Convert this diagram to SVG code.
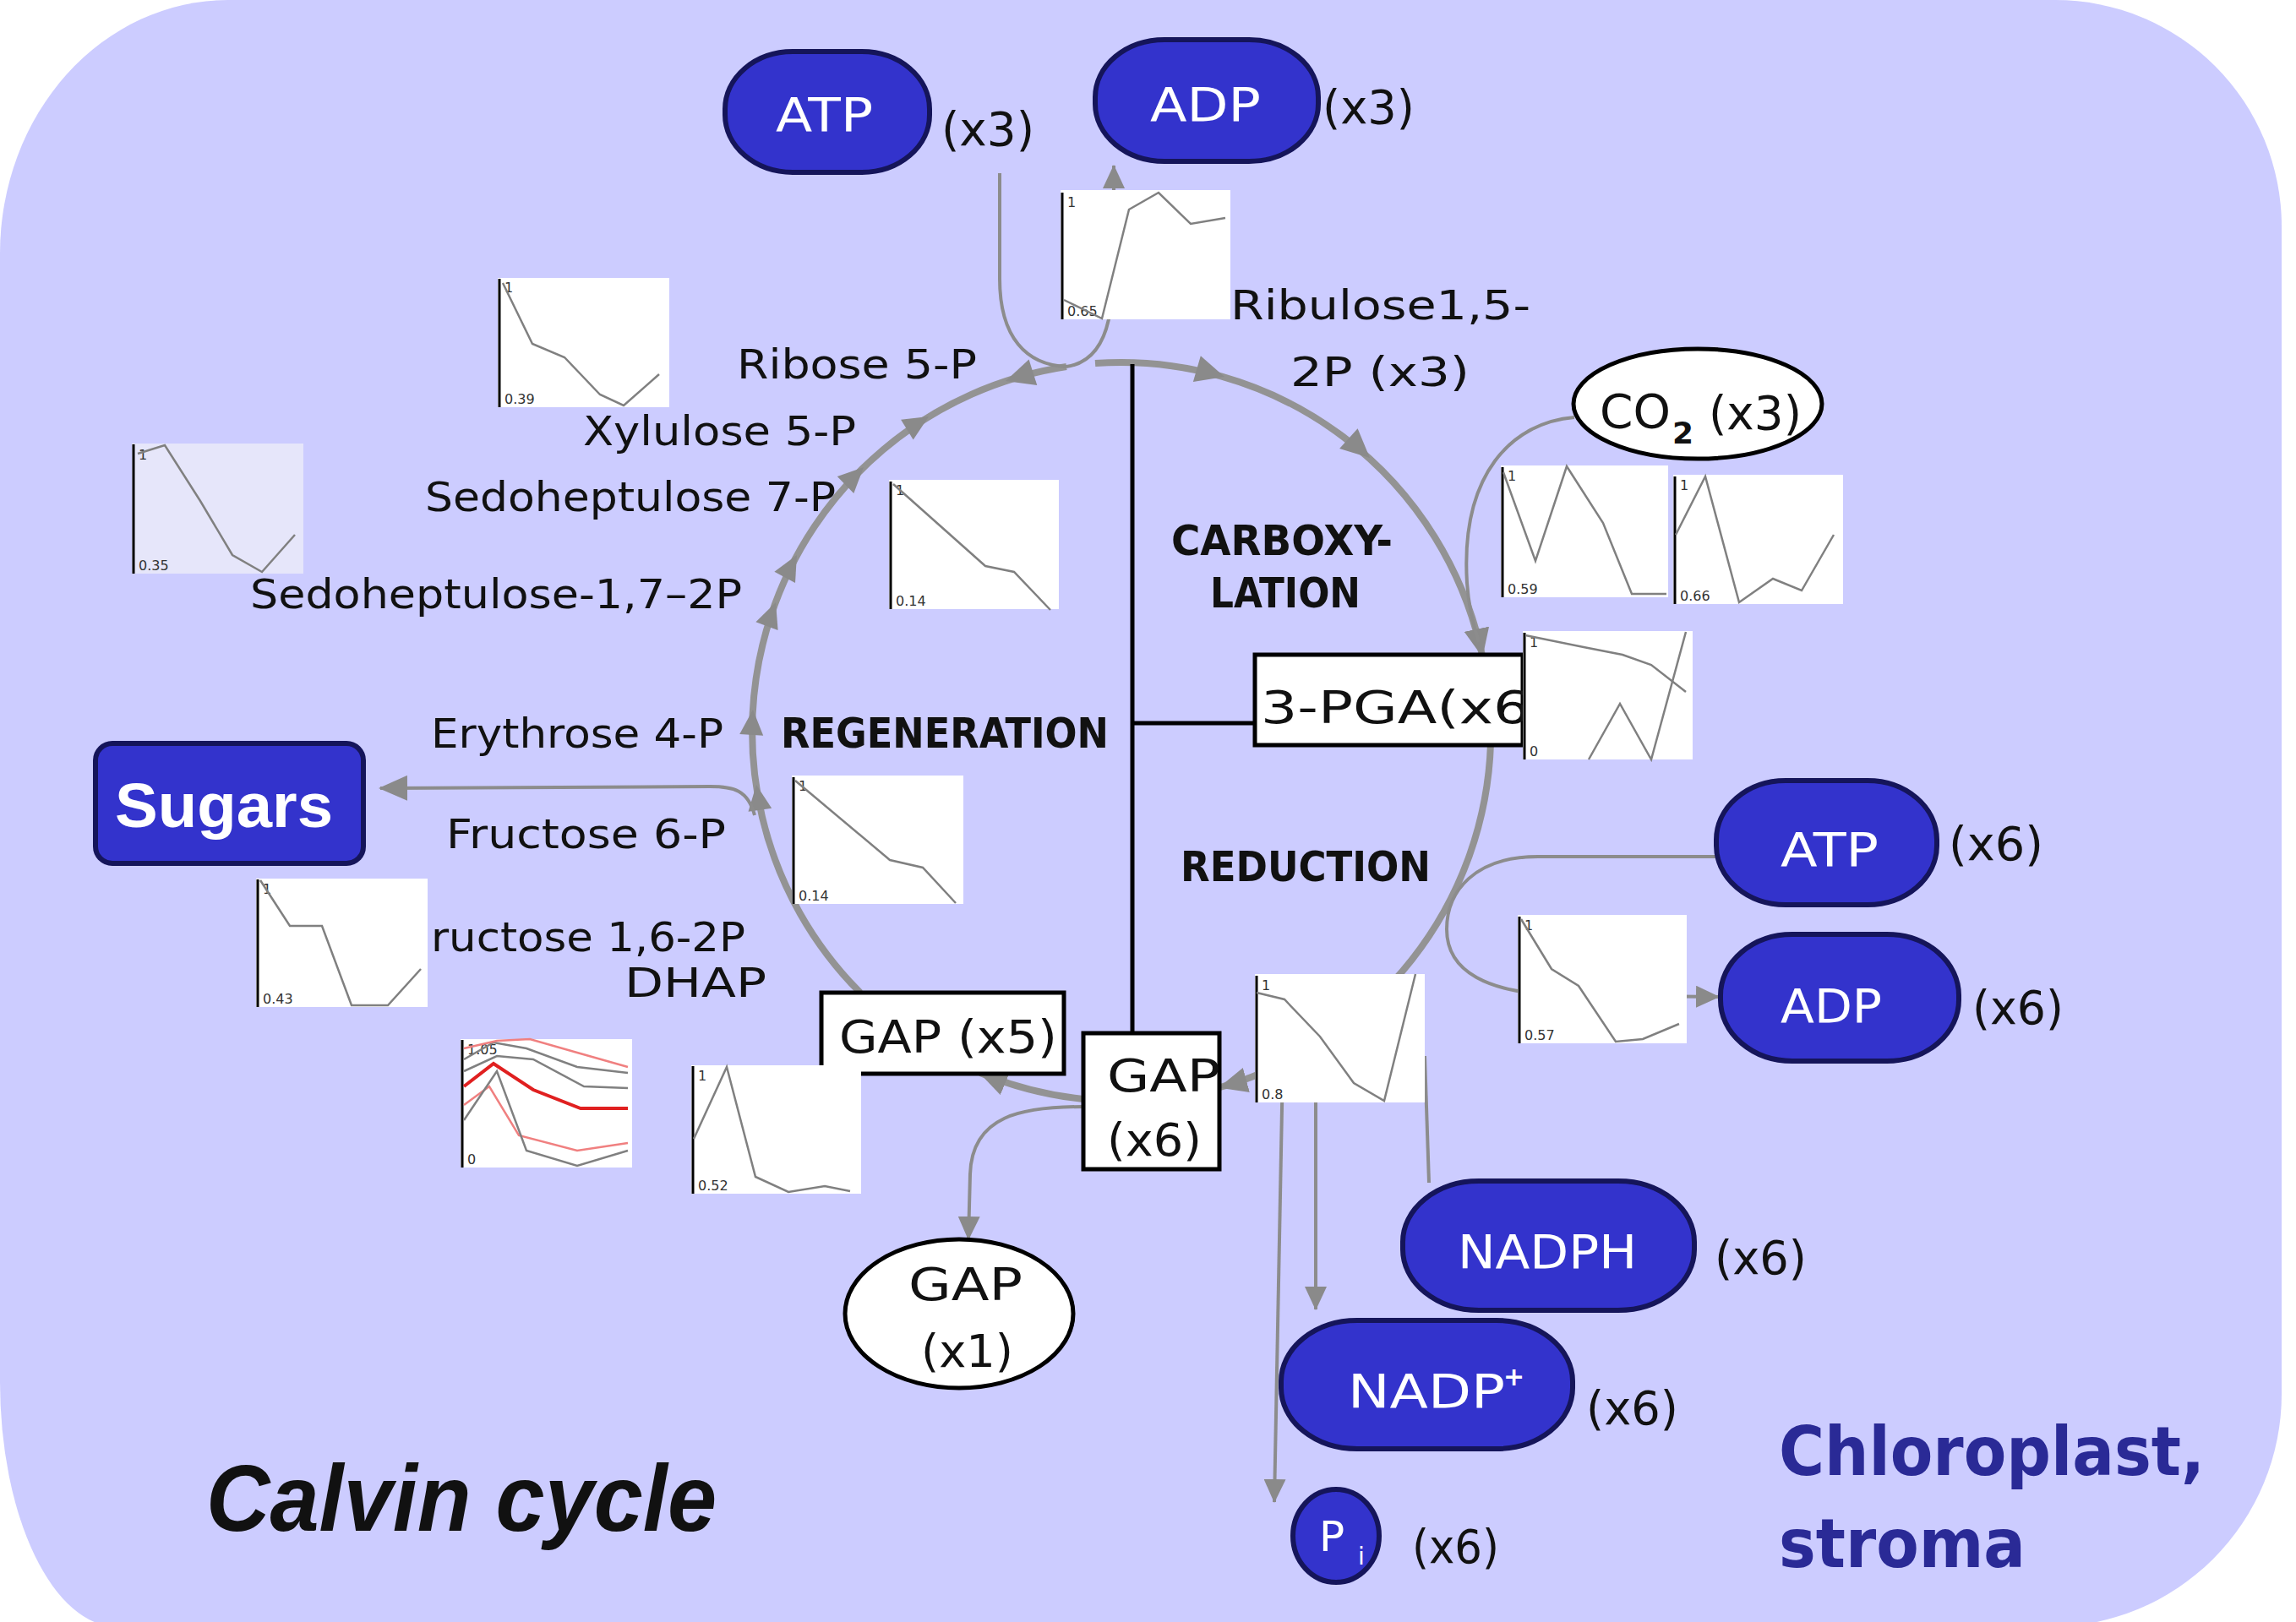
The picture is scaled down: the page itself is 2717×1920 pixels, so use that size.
<svg xmlns="http://www.w3.org/2000/svg" width="2717" height="1920" viewBox="0 0 2717 1920">
<style>
.lbl{font-family:"DejaVu Sans",Verdana,sans-serif;font-size:48px;fill:#111}
.num{font-family:"DejaVu Sans",Verdana,sans-serif;font-size:56px;fill:#111}
.bl{font-family:"DejaVu Sans Condensed","DejaVu Sans",sans-serif;font-weight:bold;font-size:50px;fill:#111}
.pill{fill:#3333CC;stroke:#15155a;stroke-width:6}
.pt{font-family:"DejaVu Sans",Verdana,sans-serif;font-size:56px;fill:#fff}
.box{fill:#fff;stroke:#000;stroke-width:5}
.bt{font-family:"DejaVu Sans",Verdana,sans-serif;font-size:54px;fill:#111}
.chart{fill:#fff}
.ax{stroke:#000;stroke-width:3}
.cv{fill:none;stroke:#808080;stroke-width:2.5}
.cl{font-family:"DejaVu Sans",sans-serif;font-size:16px;fill:#333}
.cyc{fill:none;stroke:#939393;stroke-width:8}
.con{fill:none;stroke:#8c8c8c;stroke-width:4}
.blk{stroke:#000;stroke-width:5;fill:none}
.ah{fill:#8a8a8a}
</style>
<defs>
<marker id="mc" viewBox="0 0 34 30" refX="32" refY="15" markerWidth="34" markerHeight="30" markerUnits="userSpaceOnUse" orient="auto"><path d="M0,0 L34,15 L0,30 Z" fill="#8a8a8a"/></marker>
<marker id="ms" viewBox="0 0 28 26" refX="27" refY="13" markerWidth="28" markerHeight="26" markerUnits="userSpaceOnUse" orient="auto"><path d="M0,0 L28,13 L0,26 Z" fill="#8a8a8a"/></marker>
<path id="ahb" d="M0,0 L-34,-16 L-34,16 Z"/>
<path id="ahs" d="M0,0 L-30,-14 L-30,14 Z"/>
</defs>

<path id="stroma" d="M270,0 H2432 A268 268 0 0 1 2700,268 V1650 A276 276 0 0 1 2424,1926 H140 A140 290 0 0 1 0,1636 V300 A270 300 0 0 1 270,0 Z" fill="#CCCCFF"/>

<g id="connectors">
<path class="cyc" d="M1296,430 A437 437 0 0 1 1754,776" marker-end="url(#mc)"/>
<path class="cyc" d="M1764,880 A437 437 0 0 1 1444,1287" marker-end="url(#mc)"/>
<path class="cyc" d="M1282,1301 A437 437 0 0 1 1160,1270" marker-end="url(#mc)"/>
<path class="cyc" d="M1018,1175 A437 437 0 0 1 1262,434"/>
<g class="ah">
<use href="#ahb" transform="translate(1449,446) rotate(16.2)"/>
<use href="#ahb" transform="translate(1621,542) rotate(42.3)"/>
<use href="#ahs" transform="translate(1099,493) rotate(-31.4)"/>
<use href="#ahs" transform="translate(1022,553) rotate(-44.3)"/>
<use href="#ahs" transform="translate(943,657) rotate(-61.5)"/>
<use href="#ahs" transform="translate(918,713) rotate(-69.5)"/>
<use href="#ahs" transform="translate(891,840) rotate(-86.6)"/>
<use href="#ahs" transform="translate(895,929) rotate(-98.3)"/>
<use href="#ahb" transform="translate(1190,451) rotate(162.4)"/>
</g>
<path class="con" d="M1183,205 V330 C1183,400 1215,432 1262,434"/>
<path class="con" d="M1262,434 C1290,430 1305,410 1312,378 L1318,225 L1318,196" marker-end="url(#ms)"/>
<path class="con" d="M1863,494 C1790,500 1728,560 1736,690 C1738,720 1745,745 1750,760"/>
<path class="con" d="M2031,1014 L1820,1014 C1745,1014 1712,1055 1712,1100 C1712,1150 1760,1176 1850,1178 L2034,1180" marker-end="url(#ms)"/>
<path class="con" d="M1282,1310 C1210,1310 1150,1320 1148,1390 L1146,1467" marker-end="url(#ms)"/>
<path class="con" d="M893,965 C885,935 868,931 840,931 L450,933" marker-end="url(#mc)"/>
<path class="con" d="M1691,1400 L1686,1250"/>
<path class="con" d="M1557,1260 L1557,1550" marker-end="url(#ms)"/>
<path class="con" d="M1518,1260 L1508,1778" marker-end="url(#ms)"/>
<path class="blk" d="M1340,431 V1222 M1340,856 H1485"/>
</g>

<g id="atp3"><rect class="pill" x="858" y="61" width="242" height="143" rx="80" ry="68"/><text class="pt" x="918" y="155" textLength="115" lengthAdjust="spacingAndGlyphs">ATP</text><text class="num" x="1114" y="172" textLength="110" lengthAdjust="spacingAndGlyphs">(x3)</text></g>
<g id="adp3"><rect class="pill" x="1296" y="47" width="264" height="144" rx="82" ry="68"/><text class="pt" x="1361" y="143" textLength="131" lengthAdjust="spacingAndGlyphs">ADP</text><text class="num" x="1565" y="146" textLength="109" lengthAdjust="spacingAndGlyphs">(x3)</text></g>
<g id="atp6"><rect class="pill" x="2031" y="924" width="261" height="147" rx="82" ry="70"/><text class="pt" x="2107" y="1025" textLength="116" lengthAdjust="spacingAndGlyphs">ATP</text><text class="num" x="2306" y="1018" textLength="112" lengthAdjust="spacingAndGlyphs">(x6)</text></g>
<g id="adp6"><rect class="pill" x="2036" y="1106" width="282" height="150" rx="85" ry="72"/><text class="pt" x="2107" y="1210" textLength="120" lengthAdjust="spacingAndGlyphs">ADP</text><text class="num" x="2334" y="1212" textLength="108" lengthAdjust="spacingAndGlyphs">(x6)</text></g>
<g id="nadph"><rect class="pill" x="1660" y="1398" width="345" height="153" rx="90" ry="72"/><text class="pt" x="1725" y="1501" textLength="212" lengthAdjust="spacingAndGlyphs">NADPH</text><text class="num" x="2029" y="1508" textLength="109" lengthAdjust="spacingAndGlyphs">(x6)</text></g>
<g id="nadp"><rect class="pill" x="1516" y="1563" width="345" height="152" rx="90" ry="72"/><text class="pt" x="1595" y="1666" textLength="186" lengthAdjust="spacingAndGlyphs">NADP</text><text class="pt" x="1779" y="1640" style="font-size:30px;font-weight:bold">+</text><text class="num" x="1877" y="1686" textLength="109" lengthAdjust="spacingAndGlyphs">(x6)</text></g>
<g id="pi"><ellipse class="pill" cx="1581" cy="1818" rx="51" ry="55"/><text class="pt" x="1561" y="1836" style="font-size:50px">P</text><text class="pt" x="1607" y="1852" style="font-size:28px">i</text><text class="num" x="1671" y="1850" textLength="103" lengthAdjust="spacingAndGlyphs">(x6)</text></g>
<g id="sugars"><rect class="pill" x="113" y="880" width="317" height="142" rx="20" ry="20"/><text x="136" y="979" textLength="258" lengthAdjust="spacingAndGlyphs" style="font-family:'Liberation Sans',Arial,sans-serif;font-weight:bold;font-size:74px;fill:#fff">Sugars</text></g>
<g id="co2"><ellipse cx="2009" cy="478" rx="147" ry="65" fill="#fff" stroke="#000" stroke-width="5"/><text class="num" x="1893" y="506" textLength="84" lengthAdjust="spacingAndGlyphs">CO</text><text class="num" x="1979" y="525" style="font-size:36px;font-weight:bold">2</text><text class="num" x="2022" y="508" textLength="110" lengthAdjust="spacingAndGlyphs">(x3)</text></g>
<g id="pga"><rect class="box" x="1485" y="775" width="317" height="107"/><text class="bt" x="1492" y="856" textLength="345" lengthAdjust="spacingAndGlyphs">3-PGA(x6)</text></g>
<g id="gap5"><rect class="box" x="972" y="1175" width="287" height="96"/><text class="bt" x="993" y="1246" textLength="258" lengthAdjust="spacingAndGlyphs">GAP (x5)</text></g>
<g id="gap6"><rect class="box" x="1282" y="1223" width="161" height="161"/><text class="bt" x="1310" y="1292" textLength="134" lengthAdjust="spacingAndGlyphs">GAP</text><text class="bt" x="1310" y="1368" textLength="112" lengthAdjust="spacingAndGlyphs">(x6)</text></g>
<g id="gap1"><ellipse cx="1135" cy="1555" rx="135" ry="88" fill="#fff" stroke="#000" stroke-width="5"/><text class="bt" x="1075" y="1539" textLength="135" lengthAdjust="spacingAndGlyphs">GAP</text><text class="bt" x="1090" y="1618" textLength="109" lengthAdjust="spacingAndGlyphs">(x1)</text></g>

<g id="labels">
<text class="lbl" x="872" y="448" textLength="284" lengthAdjust="spacingAndGlyphs">Ribose 5-P</text>
<text class="lbl" x="690" y="527" textLength="323" lengthAdjust="spacingAndGlyphs">Xylulose 5-P</text>
<text class="lbl" x="503" y="605" textLength="486" lengthAdjust="spacingAndGlyphs">Sedoheptulose 7-P</text>
<text class="lbl" x="296" y="720" textLength="582" lengthAdjust="spacingAndGlyphs">Sedoheptulose-1,7–2P</text>
<text class="lbl" x="510" y="885" textLength="346" lengthAdjust="spacingAndGlyphs">Erythrose 4-P</text>
<text class="lbl" x="528" y="1004" textLength="331" lengthAdjust="spacingAndGlyphs">Fructose 6-P</text>
<text class="lbl" x="510" y="1126" textLength="372" lengthAdjust="spacingAndGlyphs">ructose 1,6-2P</text>
<text class="lbl" x="739" y="1180" textLength="168" lengthAdjust="spacingAndGlyphs">DHAP</text>
<text class="lbl" x="1456" y="378" textLength="355" lengthAdjust="spacingAndGlyphs">Ribulose1,5-</text>
<text class="lbl" x="1527" y="457" textLength="212" lengthAdjust="spacingAndGlyphs">2P (x3)</text>
<text class="bl" x="924" y="885" textLength="388" lengthAdjust="spacingAndGlyphs">REGENERATION</text>
<text class="bl" x="1386" y="657" textLength="262" lengthAdjust="spacingAndGlyphs">CARBOXY-</text>
<text class="bl" x="1432" y="719" textLength="178" lengthAdjust="spacingAndGlyphs">LATION</text>
<text class="bl" x="1397" y="1043" textLength="296" lengthAdjust="spacingAndGlyphs">REDUCTION</text>
<text x="244" y="1812" textLength="604" lengthAdjust="spacingAndGlyphs" style="font-family:'Liberation Sans',Arial,sans-serif;font-weight:bold;font-style:italic;font-size:112px;fill:#111">Calvin cycle</text>
<text x="2105" y="1746" textLength="504" lengthAdjust="spacingAndGlyphs" style="font-family:'DejaVu Sans',sans-serif;font-weight:bold;font-size:80px;fill:#2A2A96">Chloroplast,</text>
<text x="2105" y="1855" textLength="292" lengthAdjust="spacingAndGlyphs" style="font-family:'DejaVu Sans',sans-serif;font-weight:bold;font-size:80px;fill:#2A2A96">stroma</text>
</g>

<g id="charts">
<g id="ch-ribulose"><rect class="chart" x="1255" y="225" width="201" height="153"/><line class="ax" x1="1257" y1="228" x2="1257" y2="378"/><text class="cl" x="1263" y="245">1</text><text class="cl" x="1263" y="374">0.65</text><polyline class="cv" points="1259,355 1304,377 1336,248 1371,228 1409,265 1450,258"/></g>
<g id="ch-ribose"><rect class="chart" x="589" y="329" width="203" height="153"/><line class="ax" x1="591" y1="330" x2="591" y2="482"/><text class="cl" x="597" y="346">1</text><text class="cl" x="597" y="478">0.39</text><polyline class="cv" points="595,335 630,407 668,423 710,467 738,480 780,443"/></g>
<g id="ch-sedo"><rect x="156" y="525" width="203" height="154" fill="#E6E6FA"/><line class="ax" x1="158" y1="526" x2="158" y2="679"/><text class="cl" x="164" y="544">1</text><text class="cl" x="164" y="675">0.35</text><polyline class="cv" points="163,537 195,527 237,593 275,657 310,677 349,633"/></g>
<g id="ch-s7p"><rect class="chart" x="1052" y="568" width="201" height="153"/><line class="ax" x1="1054" y1="570" x2="1054" y2="721"/><text class="cl" x="1060" y="586">1</text><text class="cl" x="1060" y="717">0.14</text><polyline class="cv" points="1057,573 1166,670 1200,677 1243,722"/></g>
<g id="ch-f6p"><rect class="chart" x="937" y="918" width="203" height="152"/><line class="ax" x1="939" y1="920" x2="939" y2="1070"/><text class="cl" x="945" y="936">1</text><text class="cl" x="945" y="1066">0.14</text><polyline class="cv" points="941,924 1053,1018 1092,1027 1131,1069"/></g>
<g id="ch-fbp"><rect class="chart" x="303" y="1040" width="203" height="152"/><line class="ax" x1="305" y1="1041" x2="305" y2="1192"/><text class="cl" x="311" y="1058">1</text><text class="cl" x="311" y="1188">0.43</text><polyline class="cv" points="308,1042 343,1096 381,1096 416,1190 459,1190 498,1147"/></g>
<g id="ch-dhap"><rect class="chart" x="545" y="1230" width="203" height="152"/><line class="ax" x1="547" y1="1231" x2="547" y2="1382"/><text class="cl" x="553" y="1248">1.05</text><text class="cl" x="553" y="1378">0</text>
<polyline class="cv" points="549,1254 584,1234 623,1241 683,1263 743,1270"/>
<polyline fill="none" stroke="#F08080" stroke-width="2.5" points="549,1241 588,1232 627,1230 683,1246 743,1263"/>
<polyline class="cv" points="549,1268 588,1250 631,1254 691,1286 743,1288"/>
<polyline fill="none" stroke="#E02020" stroke-width="4" points="549,1286 584,1259 631,1290 687,1312 743,1312"/>
<polyline fill="none" stroke="#F08080" stroke-width="2.5" points="549,1308 579,1286 614,1344 683,1362 743,1353"/>
<polyline class="cv" points="549,1326 588,1268 623,1362 683,1380 743,1362"/></g>
<g id="ch-gap5"><rect class="chart" x="818" y="1261" width="201" height="152"/><line class="ax" x1="820" y1="1262" x2="820" y2="1413"/><text class="cl" x="826" y="1279">1</text><text class="cl" x="826" y="1409">0.52</text><polyline class="cv" points="821,1348 860,1263 894,1393 933,1411 976,1404 1006,1410"/></g>
<g id="ch-co2a"><rect class="chart" x="1776" y="551" width="198" height="156"/><line class="ax" x1="1778" y1="553" x2="1778" y2="707"/><text class="cl" x="1784" y="569">1</text><text class="cl" x="1784" y="703">0.59</text><polyline class="cv" points="1779,559 1817,664 1854,552 1897,619 1931,703 1972,703"/></g>
<g id="ch-co2b"><rect class="chart" x="1980" y="562" width="201" height="153"/><line class="ax" x1="1982" y1="564" x2="1982" y2="715"/><text class="cl" x="1988" y="580">1</text><text class="cl" x="1988" y="711">0.66</text><polyline class="cv" points="1983,633 2018,564 2058,713 2098,685 2132,699 2170,633"/></g>
<g id="ch-pga"><rect class="chart" x="1802" y="747" width="201" height="152"/><line class="ax" x1="1804" y1="749" x2="1804" y2="899"/><text class="cl" x="1810" y="766">1</text><text class="cl" x="1810" y="895">0</text><polyline class="cv" points="1805,752 1874,766 1920,775 1954,787 1995,819"/><polyline class="cv" points="1880,899 1917,833 1954,899 1995,748"/></g>
<g id="ch-adp6"><rect class="chart" x="1796" y="1083" width="200" height="152"/><line class="ax" x1="1798" y1="1085" x2="1798" y2="1235"/><text class="cl" x="1804" y="1101">1</text><text class="cl" x="1804" y="1231">0.57</text><polyline class="cv" points="1800,1088 1836,1147 1868,1167 1912,1233 1944,1230 1987,1212"/></g>
<g id="ch-gap6"><rect class="chart" x="1485" y="1153" width="201" height="152"/><line class="ax" x1="1487" y1="1155" x2="1487" y2="1305"/><text class="cl" x="1493" y="1172">1</text><text class="cl" x="1493" y="1301">0.8</text><polyline class="cv" points="1487,1175 1520,1183 1562,1227 1602,1282 1638,1303 1675,1153"/></g>
</g>
</svg>
